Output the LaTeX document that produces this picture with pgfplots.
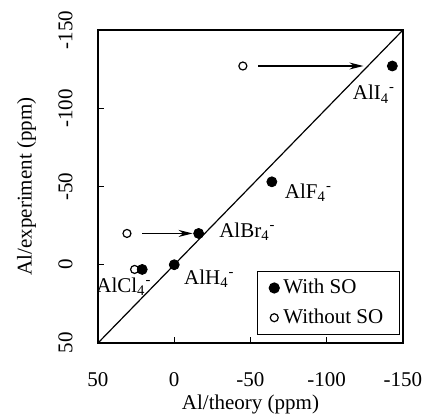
\documentclass[border=0pt]{standalone}
\usepackage{fontspec}
\setmainfont{Liberation Serif}
\usepackage{pgfplots}
\pgfplotsset{compat=1.18}
\usetikzlibrary{arrows.meta}
\begin{document}
\fontsize{10.5}{12.6}\selectfont
\begin{tikzpicture}
\useasboundingbox (-49pt,-36.5pt) rectangle (165.5pt,171.5pt);
\begin{axis}[
  at={(0,0)}, anchor=south west,
  scale only axis,
  width=152.5pt, height=156.5pt,
  x dir=reverse, y dir=reverse,
  xmin=-150, xmax=50, ymin=-150, ymax=50,
  xtick={-150,-100,-50,0,50}, xticklabels={-150,-100,-50,0,50},
  ytick={-150,-100,-50,0,50}, yticklabels={-150,-100,-50,0,50},
  tick align=inside, tick pos=left,
  major tick length=3pt,
  axis line style={line width=0.8pt},
  every tick/.style={black, line width=0.6pt},
  tick label style={font=\fontsize{10.5}{12.6}\selectfont},
  label style={font=\fontsize{10.5}{12.6}\selectfont},
  yticklabel style={rotate=90, anchor=south},
  yticklabel shift=9pt, xticklabel shift=11pt,
  xlabel={Al/theory (ppm)}, ylabel={Al/experiment (ppm)},
  xlabel shift=-3pt, ylabel shift=4pt,
  legend style={at={(0.99,0.025)}, anchor=south east, draw=black,
    line width=0.6pt, row sep=2pt, inner xsep=6pt, inner ysep=2pt,
    font=\fontsize{10.5}{12.6}\selectfont},
  legend cell align=left,
]
% with spin-orbit (filled)
\addplot[only marks, mark=*, mark size=2.5pt, black] coordinates {
  (-143,-127) (-64,-53) (-16,-20) (0,0) (21,3)
};
% without spin-orbit (open)
\addplot[only marks, mark=o, mark size=2pt, black, mark options={line width=0.6pt}] coordinates {
  (-45,-127) (31,-20) (26,3)
};
\legend{With SO, Without SO}

% diagonal y = x
\addplot[black, line width=0.6pt, forget plot] coordinates {(50,50) (-150,-150)};

% shift arrows
\addplot[black, line width=0.6pt, -{Stealth[length=7pt,width=3.5pt]}, forget plot]
  coordinates {(-55,-127) (-124,-127)};
\addplot[black, line width=0.6pt, -{Stealth[length=7pt,width=3.5pt]}, forget plot]
  coordinates {(21,-20) (-12,-20)};

\node at (axis cs:-131,-109) {AlI\textsubscript{4}\textsuperscript{-}};
\node at (axis cs:-88,-46) {AlF\textsubscript{4}\textsuperscript{-}};
\node at (axis cs:-48,-21) {AlBr\textsubscript{4}\textsuperscript{-}};
\node at (axis cs:-23,9) {AlH\textsubscript{4}\textsuperscript{-}};
\node at (axis cs:33,14) {AlCl\textsubscript{4}\textsuperscript{-}};
\end{axis}
\end{tikzpicture}
\end{document}
